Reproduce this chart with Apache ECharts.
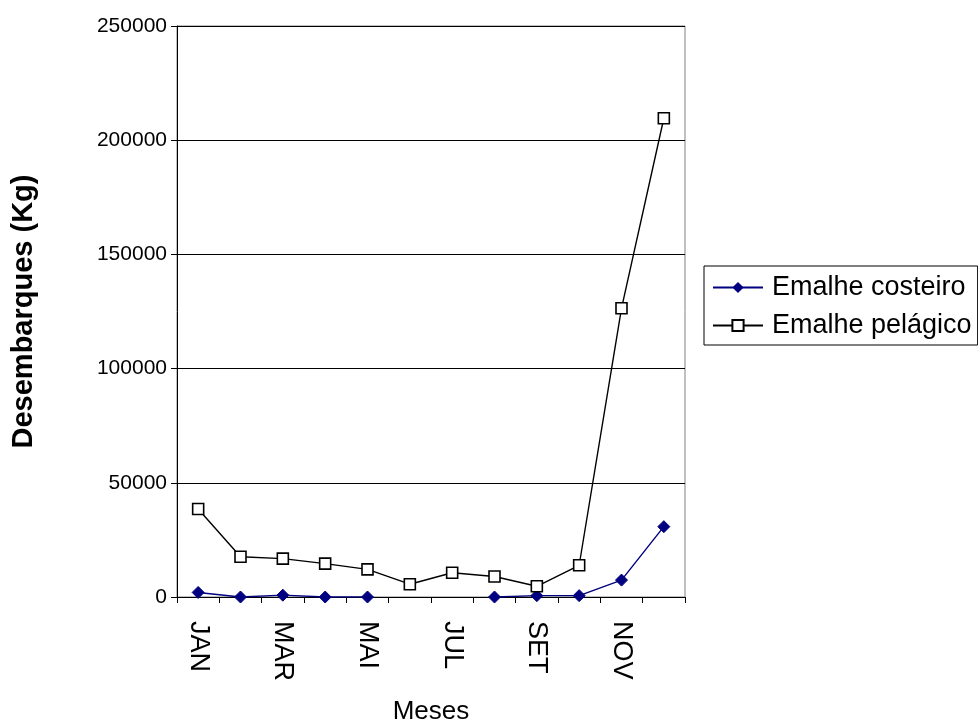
<!DOCTYPE html>
<html><head><meta charset="utf-8">
<script src="https://cdn.jsdelivr.net/npm/echarts@6/dist/echarts.min.js"></script>
<style>html,body{margin:0;padding:0;background:#fff}#c{width:978px;height:727px}</style>
</head><body><div id="c"></div>
<script>
var months = ['JAN','FEV','MAR','ABR','MAI','JUN','JUL','AGO','SET','OUT','NOV','DEZ'];
var costeiro = [2000, 0, 800, 0, 0, null, null, 0, 600, 600, 7400, 30800];
var pelagico = [38500, 17600, 16800, 14600, 12100, 5600, 10600, 9000, 4700, 13900, 126400, 209600];
var yTicks = [0, 50000, 100000, 150000, 200000, 250000];

var chart = echarts.init(document.getElementById('c'));
var F = 'Liberation Sans, Arial, sans-serif';
chart.setOption({
  backgroundColor: '#fff',
  animation: false,
  grid: {left: 177, right: 293, top: 26, bottom: 130, outerBoundsMode: 'none', containLabel: false,
         show: true, borderColor: '#808080', borderWidth: 1, backgroundColor: '#fff'},
  legend: {
    orient: 'vertical', left: 704, top: 266,
    itemWidth: 50, itemHeight: 14, itemGap: 11,
    padding: [8, 6, 6, 8],
    borderColor: '#000', borderWidth: 1,
    textStyle: {fontFamily: F, fontSize: 27, color: '#000', padding: [0, 0, 0, 4]},
    data: ['Emalhe costeiro', 'Emalhe pelágico']
  },
  xAxis: {
    type: 'category', data: months, boundaryGap: true,
    name: 'Meses', nameLocation: 'middle', nameGap: 102,
    nameTextStyle: {fontFamily: F, fontSize: 26, color: '#000'},
    axisLine: {lineStyle: {color: '#000', width: 1}},
    axisTick: {show: true, interval: 0, length: 6, lineStyle: {color: '#000'}},
    axisLabel: {interval: 1, rotate: -90, margin: 24, fontFamily: F, fontSize: 27, color: '#000'},
    splitLine: {show: false}
  },
  yAxis: {
    type: 'value', min: 0, max: 250000, interval: 50000,
    name: 'Desembarques (Kg)', nameLocation: 'middle', nameGap: 139,
    nameTextStyle: {fontFamily: F, fontSize: 29, fontWeight: 'bold', color: '#000'},
    axisLine: {show: true, lineStyle: {color: '#000', width: 1}},
    axisTick: {show: true, length: 6, lineStyle: {color: '#000'}},
    axisLabel: {margin: 10, fontFamily: F, fontSize: 21, color: '#000',
      formatter: function(v){ return yTicks.indexOf(v) >= 0 ? String(v) : ''; }},
    splitLine: {show: true, lineStyle: {color: '#000', width: 1}}
  },
  series: [
    {name: 'Emalhe costeiro', type: 'line', data: costeiro, connectNulls: false,
     symbol: 'diamond', symbolSize: 12, showAllSymbol: true,
     lineStyle: {color: '#000080', width: 1.4},
     itemStyle: {color: '#000080', borderColor: '#000080'}},
    {name: 'Emalhe pelágico', type: 'line', data: pelagico,
     symbol: 'rect', symbolSize: 11, showAllSymbol: true,
     lineStyle: {color: '#000', width: 1.4},
     itemStyle: {color: '#fff', borderColor: '#000', borderWidth: 1.6}}
  ]
});
</script></body></html>
